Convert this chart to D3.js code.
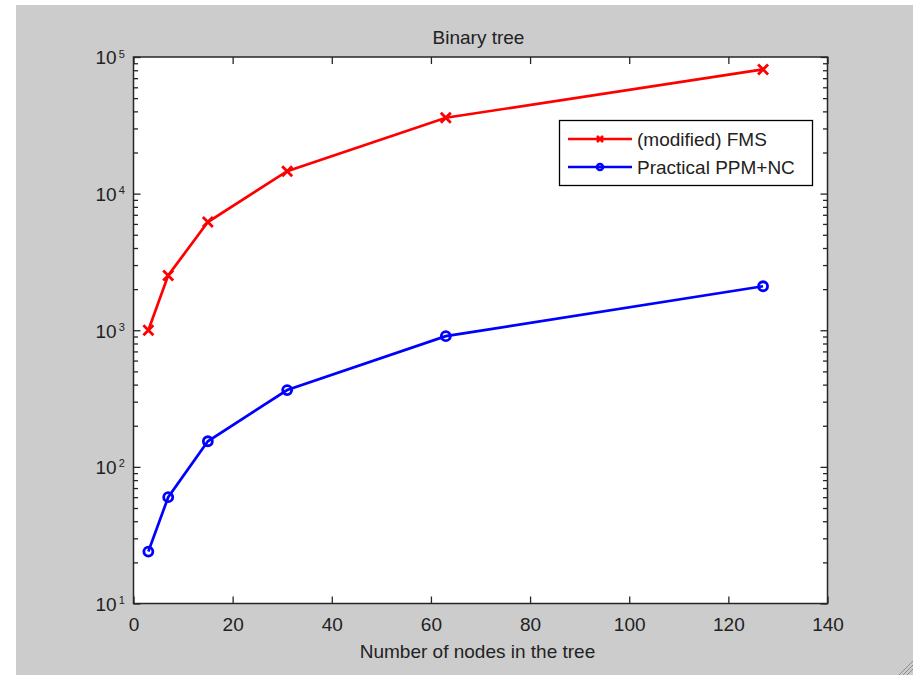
<!DOCTYPE html>
<html>
<head>
<meta charset="utf-8">
<script src="https://cdn.jsdelivr.net/npm/d3@7"></script>
<style>
  html, body { margin: 0; padding: 0; background: #ffffff; }
  svg { display: block; }
  text { font-family: "Liberation Sans", Arial, Helvetica, sans-serif; fill: #222; }
</style>
</head>
<body>
<svg id="chart" width="913" height="675"></svg>
<script>
// Tree sizes (number of nodes) for each run
const nodes = [3, 7, 15, 31, 63, 127];
// Cost of the (modified) FMS method
const fmsValues = [1000, 2520, 6200, 14600, 35900, 81100];
// Cost of the Practical PPM+NC method
const ppmValues = [24, 60, 154, 365, 905, 2100];
// Axis ticks
const xTicks = [0, 20, 40, 60, 80, 100, 120, 140];
const yMajor = [10, 100, 1000, 10000, 100000];
const yExponents = ["1", "2", "3", "4", "5"];
const seriesNames = ["(modified) FMS", "Practical PPM+NC"];

const svg = d3.select("#chart");
const W = 913, H = 675;

// figure background
svg.append("rect").attr("x", 16).attr("y", 5).attr("width", W - 16).attr("height", H - 5).attr("fill", "#cccccc");

const plotLeft = 133.5, plotRight = 827.5, plotTop = 57, plotBottom = 603.5;
const x = d3.scaleLinear().domain([0, 140]).range([plotLeft, plotRight]);
const y = d3.scaleLog().domain([10, 100000]).range([plotBottom, plotTop]);

// plot area
svg.append("rect").attr("x", plotLeft).attr("y", plotTop)
  .attr("width", plotRight - plotLeft).attr("height", plotBottom - plotTop)
  .attr("fill", "#ffffff");

// minor log ticks
const yMinor = [];
yMajor.slice(0, -1).forEach(d => { for (let k = 2; k <= 9; k++) yMinor.push(d * k); });

const axisColor = "#262626";
function styleAxis(g) {
  g.select(".domain").remove();
  g.selectAll(".tick line").attr("stroke", axisColor).attr("stroke-width", 1.3);
  g.selectAll(".tick text").attr("font-size", 19).attr("fill", "#222");
}

// bottom axis with labels
svg.append("g").attr("transform", `translate(0,${plotBottom})`)
  .call(d3.axisBottom(x).tickValues(xTicks).tickSizeInner(-7).tickSizeOuter(0).tickPadding(14).tickFormat(d3.format("d")))
  .call(styleAxis);
// top axis ticks
svg.append("g").attr("transform", `translate(0,${plotTop})`)
  .call(d3.axisTop(x).tickValues(xTicks).tickSizeInner(-7).tickSizeOuter(0).tickFormat(""))
  .call(styleAxis);

// left and right minor ticks
svg.append("g").attr("transform", `translate(${plotLeft},0)`)
  .call(d3.axisLeft(y).tickValues(yMinor).tickSizeInner(-4.5).tickSizeOuter(0).tickFormat(""))
  .call(styleAxis);
svg.append("g").attr("transform", `translate(${plotRight},0)`)
  .call(d3.axisRight(y).tickValues(yMinor).tickSizeInner(-4.5).tickSizeOuter(0).tickFormat(""))
  .call(styleAxis);
// right major ticks
svg.append("g").attr("transform", `translate(${plotRight},0)`)
  .call(d3.axisRight(y).tickValues(yMajor).tickSizeInner(-7).tickSizeOuter(0).tickFormat(""))
  .call(styleAxis);
// left major ticks with power-of-ten labels
const yAxisG = svg.append("g").attr("transform", `translate(${plotLeft},0)`)
  .call(d3.axisLeft(y).tickValues(yMajor).tickSizeInner(-7).tickSizeOuter(0).tickFormat(""))
  .call(styleAxis);
yAxisG.selectAll(".tick").each(function (d, i) {
  const t = d3.select(this).append("text")
    .attr("x", -38).attr("y", 0).attr("dy", "0.36em")
    .attr("text-anchor", "start").attr("font-size", 19).attr("fill", "#222");
  t.append("tspan").text("10");
  t.append("tspan").attr("dx", 2).attr("dy", "-0.62em").attr("font-size", 11).text(yExponents[i]);
});

// axes box
svg.append("rect").attr("x", plotLeft).attr("y", plotTop)
  .attr("width", plotRight - plotLeft).attr("height", plotBottom - plotTop)
  .attr("fill", "none").attr("stroke", axisColor).attr("stroke-width", 1.5);

// title and axis label
svg.append("text").attr("x", (plotLeft + plotRight) / 2 - 2).attr("y", 44).attr("text-anchor", "middle")
  .attr("font-size", 19).text("Binary tree");
svg.append("text").attr("x", (plotLeft + plotRight) / 2 - 3).attr("y", 658).attr("text-anchor", "middle")
  .attr("font-size", 19).text("Number of nodes in the tree");

const line = d3.line().x(d => x(d[0])).y(d => y(d[1]));
const fmsData = nodes.map((n, i) => [n, fmsValues[i]]);
const ppmData = nodes.map((n, i) => [n, ppmValues[i]]);

function xMarker(g, cx, cy, color, s, w) {
  g.append("path").attr("d", `M${cx - s},${cy - s}L${cx + s},${cy + s}M${cx - s},${cy + s}L${cx + s},${cy - s}`)
    .attr("stroke", color).attr("stroke-width", w).attr("fill", "none");
}
function oMarker(g, cx, cy, color, r, w) {
  g.append("circle").attr("cx", cx).attr("cy", cy).attr("r", r)
    .attr("stroke", color).attr("stroke-width", w).attr("fill", "none");
}

// FMS series
const gF = svg.append("g");
gF.append("path").datum(fmsData).attr("d", line).attr("fill", "none").attr("stroke", "#ff0000").attr("stroke-width", 2.7);
fmsData.forEach(d => xMarker(gF, x(d[0]), y(d[1]), "#ff0000", 5, 2.8));

// PPM+NC series
const gP = svg.append("g");
gP.append("path").datum(ppmData).attr("d", line).attr("fill", "none").attr("stroke", "#0000ff").attr("stroke-width", 2.7);
ppmData.forEach(d => oMarker(gP, x(d[0]), y(d[1]), "#0000ff", 4.5, 2.8));

// legend
const lg = svg.append("g");
lg.append("rect").attr("x", 559.5).attr("y", 120.5).attr("width", 253).attr("height", 65)
  .attr("fill", "#ffffff").attr("stroke", "#000").attr("stroke-width", 1.3);
const legendRows = [
  { name: seriesNames[0], color: "#ff0000", marker: "x", yy: 139 },
  { name: seriesNames[1], color: "#0000ff", marker: "o", yy: 167 }
];
legendRows.forEach(r => {
  lg.append("line").attr("x1", 568).attr("x2", 632).attr("y1", r.yy).attr("y2", r.yy)
    .attr("stroke", r.color).attr("stroke-width", 2.7);
  if (r.marker === "x") xMarker(lg, 600, r.yy, r.color, 3, 2.6);
  else oMarker(lg, 600, r.yy, r.color, 3, 2.6);
  lg.append("text").attr("x", 637).attr("y", r.yy).attr("dy", "0.36em").attr("font-size", 19).text(r.name);
});

// window resize grip
const grip = svg.append("g").attr("stroke", "#8a8a8a").attr("stroke-width", 1);
[6, 10, 14].forEach(o => {
  grip.append("line").attr("x1", W - o).attr("y1", H).attr("x2", W).attr("y2", H - o);
});
</script>
</body>
</html>
